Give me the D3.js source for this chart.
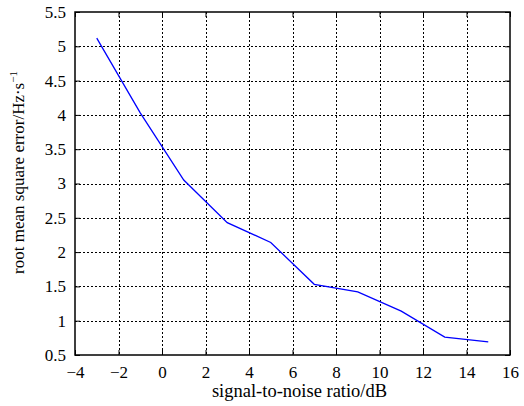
<!DOCTYPE html>
<meta charset="utf-8">
<style>
body { margin: 0; background: #fff; }
svg text { font-family: "Liberation Serif", "DejaVu Serif", serif; fill: #000; }
.grid line { stroke: #000; stroke-width: 1; stroke-dasharray: 2,2; }
.curve { fill: none; stroke: #0000ff; stroke-width: 1.3; }
</style>
<body>
<script src="https://d3js.org/d3.v7.min.js"></script>
<script>
// SNR (dB) and RMSE (Hz/s)
var snr  = [-3, -1, 1, 3, 5, 7, 9, 11, 13, 15];
var rmse = [5.12, 4.03, 3.05, 2.43, 2.14, 1.53, 1.42, 1.14, 0.76, 0.69];
var xTicks = [-4, -2, 0, 2, 4, 6, 8, 10, 12, 14, 16];
var yTicks = [0.5, 1, 1.5, 2, 2.5, 3, 3.5, 4, 4.5, 5, 5.5];

var W = 524, H = 406;
var margin = {top: 12, right: 14, bottom: 51, left: 75};
var width = W - margin.left - margin.right,
    height = H - margin.top - margin.bottom;

var x = d3.scaleLinear().domain([-4, 16]).range([0, width]);
var y = d3.scaleLinear().domain([0.5, 5.5]).range([height, 0]);

var svg = d3.select("body").append("svg")
    .attr("width", W).attr("height", H)
  .append("g")
    .attr("transform", "translate(" + margin.left + "," + margin.top + ")");

// dotted grid
var grid = svg.append("g").attr("class", "grid");
grid.selectAll(".gx").data(xTicks.slice(1, -1)).enter().append("line")
    .attr("x1", function(d) { return Math.round(x(d)) + 0.5; })
    .attr("x2", function(d) { return Math.round(x(d)) + 0.5; })
    .attr("y1", 0).attr("y2", height);
grid.selectAll(".gy").data(yTicks.slice(1, -1)).enter().append("line")
    .attr("y1", function(d) { return Math.round(y(d)) + 0.5; })
    .attr("y2", function(d) { return Math.round(y(d)) + 0.5; })
    .attr("x1", 0).attr("x2", width);

var fmt = function(d) { return d < 0 ? "\u2212" + Math.abs(d) : String(d); };

// axes, ticks pointing inward
svg.append("g")
    .attr("transform", "translate(0," + height + ")")
    .call(d3.axisBottom(x).tickValues(xTicks).tickFormat(fmt).tickSizeInner(-5).tickSizeOuter(0).tickPadding(11))
    .attr("font-family", null).attr("font-size", 17);
svg.append("g")
    .call(d3.axisLeft(y).tickValues(yTicks).tickFormat(d3.format("")).tickSizeInner(-5).tickSizeOuter(0).tickPadding(9))
    .attr("font-family", null).attr("font-size", 17);
svg.selectAll(".domain").remove();

// top/right ticks
svg.append("g").call(d3.axisTop(x).tickValues(xTicks).tickFormat("").tickSizeInner(-5).tickSizeOuter(0))
  .select(".domain").remove();
svg.append("g").attr("transform", "translate(" + width + ",0)")
  .call(d3.axisRight(y).tickValues(yTicks).tickFormat("").tickSizeInner(-5).tickSizeOuter(0))
  .select(".domain").remove();

// frame
svg.append("rect")
    .attr("x", 0).attr("y", 0)
    .attr("width", width).attr("height", height)
    .attr("fill", "none").attr("stroke", "#000").attr("stroke-width", 1.5);

// data line
var pts = snr.map(function(s, i) { return [s, rmse[i]]; });
svg.append("path")
    .datum(pts)
    .attr("class", "curve")
    .attr("d", d3.line().x(function(d) { return x(d[0]); }).y(function(d) { return y(d[1]); }));

// x label
svg.append("text")
    .attr("x", width / 2 + 7)
    .attr("y", height + 42)
    .attr("text-anchor", "middle")
    .style("font-size", "18.5px")
    .text("signal-to-noise ratio/dB");

// y label
var yl = svg.append("text")
    .attr("transform", "translate(" + (-51) + "," + (height / 2 - 11) + ") rotate(-90)")
    .attr("text-anchor", "middle")
    .style("font-size", "17px");
yl.append("tspan").text("root mean square error/Hz\u00b7s");
yl.append("tspan").attr("dy", -7).style("font-size", "11px").text("\u22121");
</script>
</body>
